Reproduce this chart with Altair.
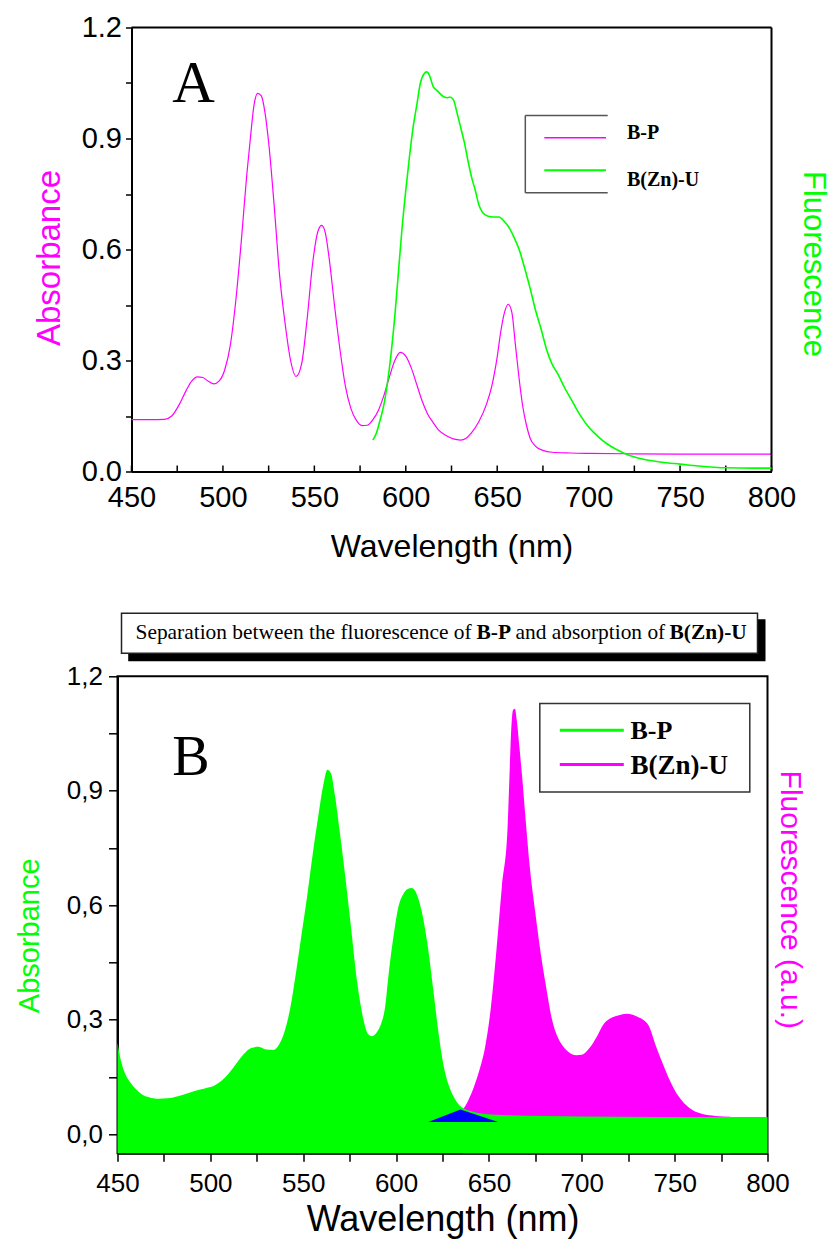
import altair as alt
import pandas as pd

SANS = "Liberation Sans"
SERIF = "Liberation Serif"
MAGENTA = "#FF00FF"
GREEN = "#00FF00"
BLUE = "#0000FF"

# ---------------- Panel A data ----------------
a_bp_wl = [450, 460, 468, 472, 476, 480, 483, 486, 489, 492,
           495, 498, 501, 504, 507, 510, 513, 515, 517, 519,
           521, 523, 525, 528, 531, 534, 537, 540, 543, 546,
           549, 552, 554, 556, 558, 561, 564, 567, 570, 573,
           576, 579, 582, 585, 588, 591, 594, 597, 600, 603,
           606, 609, 612, 615, 618, 622, 626, 630, 633, 636,
           640, 644, 647, 650, 652, 654, 656, 658, 660, 662,
           664, 666, 668, 671, 675, 680, 690, 700, 720, 750, 800]
a_bp_abs = [0.140, 0.140, 0.141, 0.150, 0.180, 0.220, 0.245, 0.256, 0.254, 0.244,
            0.237, 0.245, 0.275, 0.340, 0.460, 0.620, 0.800, 0.900, 0.990, 1.022,
            1.015, 0.970, 0.890, 0.720, 0.530, 0.400, 0.300, 0.257, 0.290, 0.410,
            0.560, 0.650, 0.665, 0.645, 0.580, 0.450, 0.330, 0.230, 0.170, 0.138,
            0.124, 0.125, 0.140, 0.165, 0.205, 0.255, 0.300, 0.322, 0.312, 0.280,
            0.235, 0.190, 0.155, 0.132, 0.112, 0.097, 0.088, 0.085, 0.090, 0.105,
            0.135, 0.180, 0.230, 0.310, 0.380, 0.430, 0.452, 0.430, 0.340, 0.250,
            0.175, 0.125, 0.090, 0.068, 0.057, 0.052, 0.050, 0.049, 0.048, 0.047, 0.047]

a_zn_wl = [582, 584, 586, 588, 590, 592, 594, 596, 598, 600,
           602, 604, 606, 608, 610, 611.5, 613, 615, 617, 619,
           621, 623, 624, 626, 628, 630, 632, 634, 636, 638,
           640, 642, 645, 648, 651, 654, 656, 659, 662, 665,
           668, 671, 674, 677, 680, 683, 687, 691, 695, 700,
           705, 710, 715, 720, 730, 740, 750, 760, 775, 790, 800]
a_zn_fl = [0.085, 0.105, 0.140, 0.180, 0.240, 0.320, 0.420, 0.540, 0.660, 0.760,
           0.850, 0.930, 0.990, 1.050, 1.075, 1.080, 1.070, 1.040, 1.030, 1.020,
           1.012, 1.010, 1.012, 1.005, 0.970, 0.930, 0.890, 0.840, 0.795, 0.760,
           0.720, 0.700, 0.690, 0.688, 0.688, 0.675, 0.663, 0.635, 0.600, 0.550,
           0.495, 0.435, 0.385, 0.330, 0.290, 0.265, 0.225, 0.190, 0.155, 0.120,
           0.095, 0.075, 0.060, 0.048, 0.033, 0.025, 0.020, 0.015, 0.010, 0.009, 0.009]

# ---------------- Panel B data ----------------
b_bp_wl = [450, 452, 454, 457, 460, 463, 467, 472, 477, 482,
           487, 492, 497, 502, 506, 510, 514, 518, 522, 526,
           530, 534, 537, 540, 543, 546, 549, 552, 555, 558,
           561, 563, 565, 567, 570, 573, 576, 579, 582, 585,
           587, 590, 592, 594, 596, 599, 601, 604, 606, 608.5,
           611, 613, 615, 617, 620, 623, 626, 629, 632, 635,
           638, 642, 648, 660, 680, 720, 760, 800]
b_bp_abs = [0.240, 0.190, 0.160, 0.135, 0.118, 0.105, 0.097, 0.093, 0.094, 0.099,
            0.106, 0.114, 0.120, 0.127, 0.140, 0.160, 0.185, 0.210, 0.226, 0.229,
            0.222, 0.221, 0.235, 0.270, 0.330, 0.420, 0.520, 0.620, 0.730, 0.830,
            0.920, 0.955, 0.945, 0.890, 0.780, 0.660, 0.530, 0.400, 0.310, 0.262,
            0.257, 0.270, 0.290, 0.330, 0.420, 0.531, 0.590, 0.630, 0.642, 0.645,
            0.630, 0.600, 0.555, 0.495, 0.380, 0.260, 0.170, 0.120, 0.090, 0.072,
            0.064, 0.058, 0.053, 0.050, 0.048, 0.046, 0.045, 0.045]

b_zn_wl = [636, 639, 642, 645, 648, 651, 654, 657, 660, 661,
           662, 663, 664, 665, 666.5, 668, 669.5, 672, 675, 678,
           681, 684, 687, 690, 693, 697, 700, 704, 708, 712,
           716, 720, 724, 727, 730, 733, 736, 740, 744, 748,
           752, 756, 760, 765, 772, 780]
b_zn_fl = [0.065, 0.090, 0.125, 0.170, 0.230, 0.330, 0.480, 0.650, 0.800, 0.930,
           1.060, 1.112, 1.115, 1.085, 1.010, 0.930, 0.840, 0.700, 0.580, 0.470,
           0.380, 0.300, 0.255, 0.230, 0.215, 0.207, 0.208, 0.225, 0.255, 0.290,
           0.305, 0.312, 0.316, 0.314, 0.308, 0.300, 0.285, 0.230, 0.180, 0.135,
           0.100, 0.077, 0.062, 0.053, 0.048, 0.046]

tri_wl = [617.3, 634.7, 655.0]
tri_top = [0.032, 0.065, 0.032]
tri_base = 0.032

x_ticks = [450, 475, 500, 525, 550, 575, 600, 625, 650, 675, 700, 725, 750, 775, 800]
y_ticks = [0.0, 0.15, 0.3, 0.45, 0.6, 0.75, 0.9, 1.05, 1.2]

series_names = ["B-P", "B(Zn)-U"]
panel_labels = ["A", "B"]
title_parts = ["Separation between the fluorescence of", "B-P", "and absorption of", "B(Zn)-U"]

one = pd.DataFrame({"k": [0]})


def hline(x1, x2, y, color, w):
    return alt.Chart(one).mark_rule(color=color, strokeWidth=w).encode(
        x=alt.value(x1), x2=alt.value(x2), y=alt.value(y))


def vline(x, y1, y2, color, w):
    return alt.Chart(one).mark_rule(color=color, strokeWidth=w).encode(
        x=alt.value(x), y=alt.value(y1), y2=alt.value(y2))


def txt(s, x, y, size, weight="normal", font=SERIF, color="black"):
    return alt.Chart(one).mark_text(text=s, font=font, fontSize=size, fontWeight=weight,
                                    align="left", baseline="alphabetic", color=color).encode(
        x=alt.value(x), y=alt.value(y))


# ================= Panel A =================
# view spans from the left edge shared with panel B; the plot frame starts DX px in
DX = 14
WA, HA = 640 + DX, 444
xsA = alt.Scale(domain=[450, 800], range=[DX, WA], nice=False, zero=False)
ysA = alt.Scale(domain=[0, 1.2], nice=False, zero=False)

xA = alt.X("wl:Q", scale=xsA, axis=alt.Axis(
    values=x_ticks, labelExpr="datum.value % 50 == 0 ? format(datum.value, 'd') : ''",
    ticks=False, tickSize=0, labelPadding=12, labelFont=SANS, labelFontSize=29,
    labelColor="black", labelFlush=False, labelOverlap=False,
    domainColor="black", domainWidth=2, grid=False,
    title="Wavelength (nm)", titleFont=SANS, titleFontSize=32, titleFontWeight="normal",
    titleColor="black", titleBaseline="alphabetic", titleX=DX + 320, titleY=85))

yA = alt.Y("v:Q", scale=ysA, axis=alt.Axis(
    orient="left", offset=-DX, values=y_ticks,
    labelExpr="round(datum.value*100) % 30 == 0 ? format(datum.value, '.1f') : ''",
    tickSize=6, tickColor="black", tickWidth=1.5, labelPadding=4,
    labelFont=SANS, labelFontSize=29, labelColor="black", labelOverlap=False, labelFlush=False,
    domainColor="black", domainWidth=2, grid=False,
    title="Absorbance", titleFont=SANS, titleFontSize=33, titleFontWeight="normal",
    titleColor=MAGENTA, titleAngle=270, titleBaseline="alphabetic", titleAlign="center",
    titleX=-71.7, titleY=230))

abs_line_A = alt.Chart(pd.DataFrame({"wl": a_bp_wl, "v": a_bp_abs})).mark_line(
    color=MAGENTA, strokeWidth=1.2, interpolate="monotone").encode(x=xA, y=yA)

ticks_in_A = alt.Chart(pd.DataFrame({"wl": x_ticks})).mark_rule(
    color="black", strokeWidth=1.5).encode(x=xA, y=alt.value(HA), y2=alt.value(HA - 6))

lab_A = alt.Chart(pd.DataFrame({"wl": [484], "v": [1.0], "t": [panel_labels[0]]})).mark_text(
    font=SERIF, fontSize=59, align="center", baseline="alphabetic", color="black").encode(
    x=xA, y=yA, text="t:N")

frameA = [
    hline(DX, WA, 0, "black", 2),
    vline(WA, 0, HA, "black", 2),
]

legA = [
    hline(DX + 393.8, DX + 476.2, 88, "#555555", 1.5),
    hline(DX + 393.8, DX + 476.2, 165.3, "#555555", 1.5),
    vline(DX + 393.8, 88, 165.3, "#555555", 1.5),
    hline(DX + 412.8, DX + 474.5, 110.3, MAGENTA, 1.5),
    hline(DX + 412.8, DX + 474.5, 142.7, GREEN, 2),
    txt(series_names[0], DX + 495.5, 111.3, 20, "bold"),
    txt(series_names[1], DX + 495.5, 158.7, 20, "bold"),
]

leftA = alt.layer(abs_line_A, ticks_in_A, lab_A, *frameA, *legA)

fl_line_A = alt.Chart(pd.DataFrame({"wl": a_zn_wl, "f": a_zn_fl})).mark_line(
    color=GREEN, strokeWidth=1.6, interpolate="monotone").encode(
    x=xA,
    y=alt.Y("f:Q", scale=ysA, axis=alt.Axis(
        orient="right", labels=False, ticks=False, domain=False, grid=False,
        title="Fluorescence", titleFont=SANS, titleFontSize=31, titleFontWeight="normal",
        titleColor=GREEN, titleAngle=90, titleBaseline="alphabetic", titleAlign="center",
        titleX=32, titleY=236)))

panelA = alt.layer(leftA, fl_line_A).resolve_scale(y="independent").properties(
    width=WA, height=HA, view=alt.ViewBackground(strokeOpacity=0))

# ================= Panel B =================
WB, HB = 650, 477
xsB = alt.Scale(domain=[450, 800], nice=False, zero=False)
ysB = alt.Scale(domain=[-0.05, 1.2], nice=False, zero=False)

xB = alt.X("wl:Q", scale=xsB, axis=alt.Axis(
    values=x_ticks, labelExpr="datum.value % 50 == 0 ? format(datum.value, 'd') : ''",
    tickSize=8, tickColor="black", tickWidth=1.5, labelPadding=9.5,
    labelFont=SANS, labelFontSize=26, labelColor="black", labelFlush=False, labelOverlap=False,
    domainColor="black", domainWidth=2, grid=False,
    title="Wavelength (nm)", titleFont=SANS, titleFontSize=36, titleFontWeight="normal",
    titleColor="black", titleBaseline="alphabetic", titleX=WB / 2, titleY=77))

yB = alt.Y("v:Q", scale=ysB, axis=alt.Axis(
    orient="left", values=y_ticks,
    labelExpr="round(datum.value*100) % 30 == 0 ? replace(format(datum.value, '.1f'), '.', ',') : ''",
    tickSize=9, tickColor="black", tickWidth=1.5, labelPadding=6,
    labelFont=SANS, labelFontSize=26, labelColor="black", labelOverlap=False, labelFlush=False,
    domainColor="black", domainWidth=2, grid=False,
    title="Absorbance", titleFont=SANS, titleFontSize=29, titleFontWeight="normal",
    titleColor=GREEN, titleAngle=270, titleBaseline="alphabetic", titleAlign="center",
    titleX=-78.6, titleY=259))

zn_area_B = alt.Chart(pd.DataFrame({"wl": b_zn_wl, "f": b_zn_fl})).mark_area(
    color=MAGENTA, opacity=1, interpolate="monotone").encode(
    x=xB,
    y=alt.Y("f:Q", scale=ysB, axis=alt.Axis(
        orient="right", labels=False, ticks=False, domain=False, grid=False,
        title="Fluorescence (a.u.)", titleFont=SANS, titleFontSize=30, titleFontWeight="normal",
        titleColor=MAGENTA, titleAngle=90, titleBaseline="alphabetic", titleAlign="center",
        titleX=13, titleY=223)),
    y2=alt.Y2Datum(-0.05))

bp_area_B = alt.Chart(pd.DataFrame({"wl": b_bp_wl, "v": b_bp_abs})).mark_area(
    color=GREEN, opacity=1, interpolate="monotone").encode(x=xB, y=yB, y2=alt.Y2Datum(-0.05))

tri_B = alt.Chart(pd.DataFrame({"wl": tri_wl, "v": tri_top})).mark_area(
    color=BLUE, opacity=1).encode(x=xB, y=yB, y2=alt.Y2Datum(tri_base))

lab_B = alt.Chart(pd.DataFrame({"wl": [489.6], "v": [0.942], "t": [panel_labels[1]]})).mark_text(
    font=SERIF, fontSize=56, align="center", baseline="alphabetic", color="black").encode(
    x=xB, y=yB, text="t:N")

shadow_B = alt.Chart(one).mark_rect(color="black").encode(
    x=alt.value(10.7), x2=alt.value(648), y=alt.value(-57), y2=alt.value(-15))
box_B = alt.Chart(one).mark_rect(fill="white", stroke="#222222", strokeWidth=1.5).encode(
    x=alt.value(4), x2=alt.value(640), y=alt.value(-63), y2=alt.value(-23))
title_B = [
    txt(title_parts[0], 18, -37, 21.4, "normal"),
    txt(title_parts[1], 359, -37, 21.4, "bold"),
    txt(title_parts[2], 398, -37, 21.4, "normal"),
    txt(title_parts[3], 552, -37, 21.4, "bold"),
]

legbox_B = alt.Chart(one).mark_rect(fill="white", stroke="#333333", strokeWidth=1.5).encode(
    x=alt.value(422.3), x2=alt.value(632.3), y=alt.value(27.3), y2=alt.value(115.7))
legB = [
    legbox_B,
    hline(442.3, 506.3, 54, GREEN, 3),
    hline(442.3, 506.3, 88.3, MAGENTA, 3),
    txt(series_names[0], 513, 63, 26, "bold"),
    txt(series_names[1], 513, 98, 27, "bold"),
]

leftB = alt.layer(bp_area_B, tri_B, lab_B, shadow_B, box_B, *title_B, *legB)

panelB = alt.layer(zn_area_B, leftB).resolve_scale(y="independent").properties(
    width=WB, height=HB, view=alt.ViewBackground(stroke="black", strokeWidth=2))

chart = alt.vconcat(panelA, panelB, spacing=48.8).properties(
    padding={"left": 14.5, "top": 13.5, "right": 5, "bottom": 0},
    background="white",
)

chart.save("out.html", embed_options={"renderer": "svg", "actions": False})
